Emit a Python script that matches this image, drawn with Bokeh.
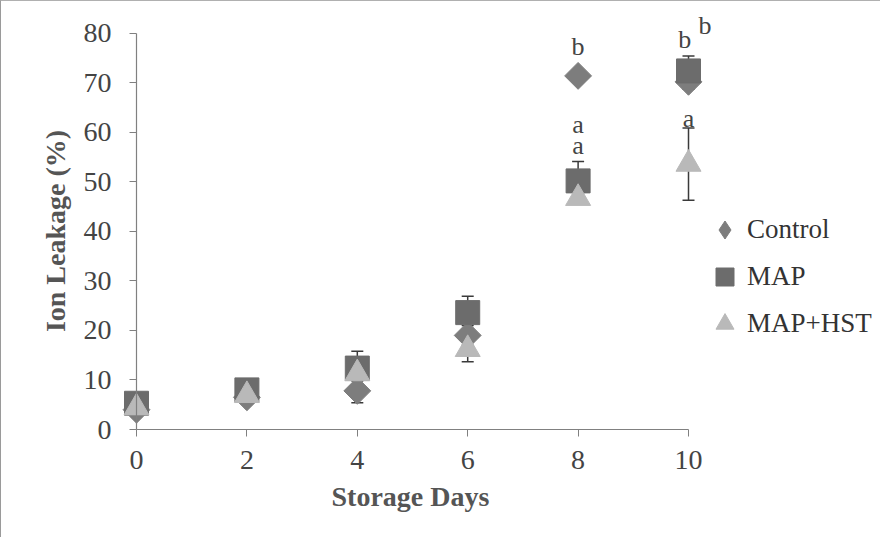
import math
from bokeh.plotting import figure
from bokeh.models import (Range1d, Whisker, TeeHead, ColumnDataSource, Legend,
                          LegendItem, FixedTicker, LinearAxis, Title)
from bokeh.embed import file_html
from bokeh.resources import INLINE
from bokeh.core.properties import value

# ---- data ----
days = [0, 2, 4, 6, 8, 10]
control = [4.0, 6.5, 7.8, 19.0, 71.4, 70.2]
control_err = [0.5, 0.5, 2.4, 2.0, 1.0, 1.5]
map_vals = [5.3, 8.0, 12.4, 23.6, 50.2, 72.4]
map_err = [0.5, 1.0, 3.4, 3.3, 3.9, 3.0]
hst = [4.4, 6.9, 11.3, 16.2, 46.7, 53.6]
hst_err = [0.5, 0.8, 1.5, 2.5, 1.0, 7.3]

series_names = ["Control", "MAP", "MAP+HST"]
x_ticks = [0, 2, 4, 6, 8, 10]
y_ticks = [0, 10, 20, 30, 40, 50, 60, 70, 80]

letter_x = [8, 8, 8, 9.93, 10.3, 10]
letter_y = [77.4, 61.6, 57.4, 78.8, 81.6, 62.8]
letter_text = ["b", "a", "a", "b", "b", "a"]

FONT = "Liberation Serif"
AX_COLOR = "#808080"
TICK_TXT = "#444444"
TITLE_TXT = "#555555"

p = figure(width=880, height=537, output_backend="svg", toolbar_location=None,
           x_range=Range1d(-0.453, 13.46), y_range=Range1d(-4.24, 84.4),
           x_axis_location=None, y_axis_location=None,
           min_border_left=110, min_border_right=2, min_border_top=10,
           min_border_bottom=88)
p.styles = {"border-left": "1px solid #9a9a9a", "border-top": "1px solid #b0b0b0"}
p.outline_line_color = None
p.xgrid.visible = False
p.ygrid.visible = False
p.background_fill_color = "white"
p.border_fill_color = "white"


def label_axis(ticks, standoff, title, title_standoff):
    return LinearAxis(ticker=FixedTicker(ticks=ticks), axis_line_color=None,
                      major_tick_line_color=None, minor_tick_line_color=None,
                      major_tick_out=0, major_tick_in=0,
                      major_label_standoff=standoff,
                      major_label_text_font=FONT, major_label_text_font_size="28px",
                      major_label_text_color=TICK_TXT,
                      axis_label=title, axis_label_standoff=title_standoff,
                      axis_label_text_font=FONT, axis_label_text_font_size="28px",
                      axis_label_text_font_style="bold",
                      axis_label_text_color=TITLE_TXT)


def line_axis(ticks, bounds):
    return LinearAxis(ticker=FixedTicker(ticks=ticks), fixed_location=0,
                      bounds=bounds, axis_line_color=AX_COLOR, axis_line_width=1.2,
                      major_tick_line_color=AX_COLOR, major_tick_out=7,
                      major_tick_in=0, minor_tick_line_color=None,
                      major_label_standoff=0, major_label_text_font_size="0px",
                      major_label_text_color=None)


p.add_layout(label_axis(y_ticks, 0, "Ion Leakage (%)", 10), "left")
p.add_layout(line_axis(y_ticks, (0, 80)), "left")
p.add_layout(label_axis(x_ticks, 0, None, 0), "below")
p.add_layout(line_axis(x_ticks, (0, 10)), "below")
p.add_layout(Title(text="Storage Days", align="left", offset=220, standoff=14,
                   text_font=FONT, text_font_size="28px", text_font_style="bold",
                   text_color=TITLE_TXT), "below")


# error bars (drawn under markers)
def add_err(vals, errs):
    src = ColumnDataSource(dict(x=days,
                                upper=[v + e for v, e in zip(vals, errs)],
                                lower=[v - e for v, e in zip(vals, errs)]))
    w = Whisker(base="x", upper="upper", lower="lower", source=src,
                line_color="#3a3a3a", line_width=1.5, level="underlay",
                upper_head=TeeHead(size=12, line_color="#3a3a3a", line_width=1.5),
                lower_head=TeeHead(size=12, line_color="#3a3a3a", line_width=1.5))
    p.add_layout(w)


add_err(control, control_err)
add_err(map_vals, map_err)
add_err(hst, hst_err)

C_CTRL, C_MAP, C_HST = "#7d7d7d", "#6c6c6c", "#b9b9b9"

r_ctrl = p.scatter(days, control, marker="square", angle=math.pi / 4, size=19,
                   fill_color=C_CTRL, line_color=C_CTRL)
r_map = p.scatter(days, map_vals, marker="square", size=24,
                  fill_color=C_MAP, line_color=C_MAP)
r_hst = p.scatter(days, hst, marker="triangle", size=25,
                  fill_color=C_HST, line_color=C_HST)
# legend-only glyph for the diamond symbol
r_ctrl_leg = p.scatter(days, control, marker="diamond", size=25,
                       fill_color=C_CTRL, line_color=C_CTRL, visible=False)

p.text(letter_x, letter_y, text=letter_text, text_font=value(FONT),
       text_font_size="26px", text_color="#444444", text_align="center",
       text_baseline="middle")

legend = Legend(items=[LegendItem(label=series_names[0], renderers=[r_ctrl_leg]),
                       LegendItem(label=series_names[1], renderers=[r_map]),
                       LegendItem(label=series_names[2], renderers=[r_hst])],
                location=(591, 104), orientation="vertical",
                glyph_width=45, glyph_height=45, label_height=20,
                label_standoff=0, spacing=2, padding=0, margin=0,
                border_line_color=None, background_fill_alpha=0,
                label_text_font=FONT, label_text_font_size="27px",
                label_text_color="#333333")
p.add_layout(legend)

open("out.html", "w").write(file_html(p, INLINE))
